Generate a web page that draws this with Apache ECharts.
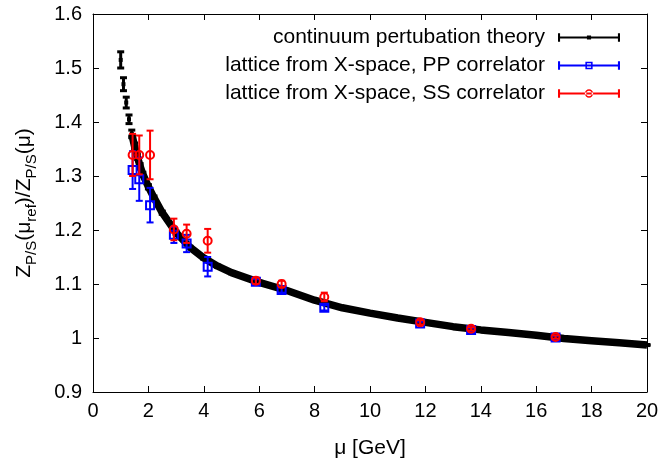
<!DOCTYPE html>
<html>
<head>
<meta charset="utf-8">
<script src="https://cdn.jsdelivr.net/npm/echarts@6/dist/echarts.min.js"></script>
<style>
html,body{margin:0;padding:0;background:#fff;}
#chart{width:662px;height:465px;}
</style>
</head>
<body>
<div id="chart"></div>
<script>
// ---- data ----
const contMu  = [1.0,1.1,1.2,1.3,1.4,1.5,1.6,1.7,1.8,2.0,2.2,2.5,3.0,3.5,4.0,4.5,5.0,6.0,7.0,8.0,9.0,10,11,12,13,14,15,16,17,18,19,20];
const contVal = [1.515,1.470,1.436,1.405,1.378,1.355,1.336,1.318,1.303,1.280,1.260,1.232,1.195,1.168,1.148,1.133,1.121,1.103,1.088,1.070,1.056,1.046,1.037,1.029,1.021,1.015,1.010,1.005,0.999,0.995,0.991,0.987];
const contErr = [0.015,0.012,0.010,0.008,0.007,0.006,0.005,0.005,0.004,0.004,0.003,0.003,0.003,0.002,0.002,0.002,0.002,0.002,0.001,0.001,0.001,0.001,0.001,0.001,0.001,0.001,0.001,0.001,0.001,0.001,0.001,0.001];

const latMu  = [1.43,1.67,2.06,2.92,3.38,4.14,5.88,6.81,8.35,11.81,13.65,16.70];
const ppVal  = [1.311,1.294,1.246,1.191,1.175,1.132,1.104,1.089,1.056,1.027,1.015,1.001];
const ppErr  = [0.035,0.040,0.032,0.015,0.016,0.018,0.005,0.005,0.005,0.003,0.003,0.003];
const ssVal  = [1.339,1.339,1.339,1.201,1.193,1.180,1.106,1.100,1.076,1.029,1.017,1.002];
const ssErr  = [0.039,0.036,0.045,0.020,0.017,0.022,0.006,0.006,0.008,0.004,0.003,0.003];

const xTicks = {min:0, max:20, step:2};
const yTicks = {min:0.9, max:1.6, step:0.1};

const names = ['continuum pertubation theory','lattice from X-space, PP correlator','lattice from X-space, SS correlator'];

// ---- build ----
const FONT = 'Liberation Sans, Arial, Helvetica, sans-serif';
function triples(xs, ys, es){ return xs.map((x,i)=>[x, ys[i], es[i]]); }

function errRender(kind, color, capHalf, lw, size){
  return function(params, api){
    const x = api.value(0), y = api.value(1), e = api.value(2);
    const p = api.coord([x,y]);
    const t = api.coord([x,y+e]);
    const b = api.coord([x,y-e]);
    const st = {stroke:color, lineWidth:lw, fill:null};
    const ch = [
      {type:'line', shape:{x1:p[0],y1:t[1],x2:p[0],y2:b[1]}, style:st},
      {type:'line', shape:{x1:p[0]-capHalf,y1:t[1],x2:p[0]+capHalf,y2:t[1]}, style:st},
      {type:'line', shape:{x1:p[0]-capHalf,y1:b[1],x2:p[0]+capHalf,y2:b[1]}, style:st}
    ];
    if(kind==='square'){
      ch.push({type:'rect', shape:{x:p[0]-size/2,y:p[1]-size/2,width:size,height:size}, style:{stroke:color,lineWidth:lw,fill:null}});
    } else if(kind==='circle'){
      ch.push({type:'circle', shape:{cx:p[0],cy:p[1],r:size/2}, style:{stroke:color,lineWidth:lw,fill:null}});
    } else {
      ch.push({type:'rect', shape:{x:p[0]-size/2,y:p[1]-size/2,width:size,height:size}, style:{fill:color}});
    }
    return {type:'group', children:ch};
  };
}

const iconBase = 'M0,4.1H60V5.9H0Z M0,1H2V9H0Z M58,1H60V9H58Z';
const iconBlack = 'path://' + iconBase + ' M28,3H32V7H28Z';
const iconPP = 'path://' + iconBase + ' M26.5,1.3H33.5V2.8H26.5Z M26.5,7.2H33.5V8.7H26.5Z M26.5,1.3H28V8.7H26.5Z M32,1.3H33.5V8.7H32Z';
const iconSS = 'path://' + iconBase + ' M34,5A4,4 0 1,0 26,5A4,4 0 1,0 34,5Z M32.6,5A2.6,2.6 0 1,1 27.4,5A2.6,2.6 0 1,1 32.6,5Z';

const option = {
  animation:false,
  backgroundColor:'#fff',
  grid:{left:93, right:15, top:14, bottom:73, containLabel:false},
  legend:{
    orient:'vertical', right:37, top:22, align:'right', padding:5,
    itemWidth:62, itemHeight:10, itemGap:7,
    textStyle:{fontSize:21, fontFamily:FONT, color:'#000', padding:[0,8,0,0]},
    data:[{name:names[0],icon:iconBlack},{name:names[1],icon:iconPP},{name:names[2],icon:iconSS}]
  },
  graphic:[{
    type:'text', x:24, y:203, rotation:Math.PI/2, silent:true,
    style:{
      text:'{b|Z}{s|P/S}{b|(μ}{s|ref}{b|)/Z}{s|P/S}{b|(μ)}',
      align:'center', verticalAlign:'middle', fill:'#000', font:'21px '+FONT,
      rich:{
        b:{fontSize:21, fontFamily:FONT, fill:'#000', lineHeight:30, verticalAlign:'middle'},
        s:{fontSize:15, fontFamily:FONT, fill:'#000', lineHeight:30, verticalAlign:'bottom'}
      }
    }
  }],
  xAxis:[{
    type:'value', min:xTicks.min, max:xTicks.max, interval:xTicks.step,
    name:'μ [GeV]', nameLocation:'middle', nameGap:46,
    nameTextStyle:{fontSize:21, fontFamily:FONT, color:'#000'},
    axisLine:{show:true,onZero:false,lineStyle:{color:'#000',width:1}},
    axisTick:{show:true,inside:true,length:6,lineStyle:{color:'#000'}},
    axisLabel:{fontSize:20, fontFamily:FONT, color:'#000', margin:9},
    splitLine:{show:false}
  },{
    type:'value', position:'top', min:xTicks.min, max:xTicks.max, interval:xTicks.step,
    axisLine:{show:true,onZero:false,lineStyle:{color:'#000',width:1}},
    axisTick:{show:true,inside:true,length:6,lineStyle:{color:'#000'}},
    axisLabel:{show:false}, splitLine:{show:false}
  }],
  yAxis:[{
    type:'value', min:yTicks.min, max:yTicks.max, interval:yTicks.step,
    axisLine:{show:true,onZero:false,lineStyle:{color:'#000',width:1}},
    axisTick:{show:true,inside:true,length:6,lineStyle:{color:'#000'}},
    axisLabel:{fontSize:20, fontFamily:FONT, color:'#000', margin:11,
      formatter:function(v){ const r=Math.round(v*10)/10; return r===1?'1':r.toFixed(1); }},
    splitLine:{show:false}
  },{
    type:'value', position:'right', min:yTicks.min, max:yTicks.max, interval:yTicks.step,
    axisLine:{show:true,onZero:false,lineStyle:{color:'#000',width:1}},
    axisTick:{show:true,inside:true,length:6,lineStyle:{color:'#000'}},
    axisLabel:{show:false}, splitLine:{show:false}
  }],
  series:[
    {
      name:names[0], type:'line', color:'#000', silent:true,
      data:contMu.map((x,i)=>[x,contVal[i]]).filter(d=>d[0]>=1.4),
      showSymbol:false, lineStyle:{color:'#000', width:7.5}, z:2
    },
    {
      name:names[0], type:'custom', color:'#000',
      renderItem:errRender('dot','#000',3.5,3,4),
      encode:{x:0,y:1}, data:triples(contMu,contVal,contErr), z:3
    },
    {
      name:names[1], type:'custom', color:'#0000ff',
      renderItem:errRender('square','#0000ff',3.5,2,8),
      encode:{x:0,y:1}, data:triples(latMu,ppVal,ppErr), z:4
    },
    {
      name:names[2], type:'custom', color:'#ff0000',
      renderItem:errRender('circle','#ff0000',3.5,2,8),
      encode:{x:0,y:1}, data:triples(latMu,ssVal,ssErr), z:5
    }
  ]
};

const chart = echarts.init(document.getElementById('chart'), null, {renderer:'canvas'});
chart.setOption(option);
</script>
</body>
</html>
